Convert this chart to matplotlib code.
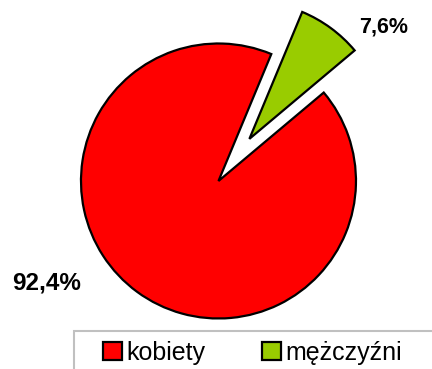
# libraries
import matplotlib.pyplot as plt
from matplotlib.patches import Rectangle

plt.rcParams['font.family'] = ['Liberation Sans', 'DejaVu Sans']

# data
labels = ['kobiety', 'mężczyźni']
shares = [92.4, 7.6]
colors = ['#ff0000', '#99cc00']
explode = [0, 0.38]

fig = plt.figure(figsize=(4.32, 3.69), dpi=100)
ax = fig.add_axes([0, 0, 1, 1])

wedges, _ = ax.pie(shares, explode=explode, colors=colors, startangle=67.4,
                   radius=1.0, center=(0, 0),
                   wedgeprops=dict(edgecolor='black', linewidth=1.6))

ax.set_xlim(-1.589, 1.553)
ax.set_ylim(-1.367, 1.316)
ax.set_aspect('equal')
ax.axis('off')

# percentage labels
fmt = lambda v: '{:.1f}%'.format(v).replace('.', ',')
ax.text(1.2, 1.12, fmt(shares[1]), ha='center', va='center',
        fontsize=15.5, fontweight='bold')
ax.text(-1.25, -0.74, fmt(shares[0]), ha='center', va='center',
        fontsize=17.5, fontweight='bold')

# legend frame running off the bottom right
frame = Rectangle((74 / 432, -0.1), 1.0, (369 - 331) / 369 + 0.1,
                  transform=fig.transFigure, facecolor='white',
                  edgecolor='#c0c0c0', linewidth=1.5, clip_on=False)
fig.patches.append(frame)

fig.legend(wedges, labels, loc='upper left',
           bbox_to_anchor=(103 / 432, 1 - 341 / 369),
           frameon=False, ncol=2, fontsize=18,
           handlelength=0.75, handleheight=0.75, handletextpad=0.2,
           columnspacing=2.25, borderpad=0, borderaxespad=0)

fig.savefig('out.png', dpi=100)
